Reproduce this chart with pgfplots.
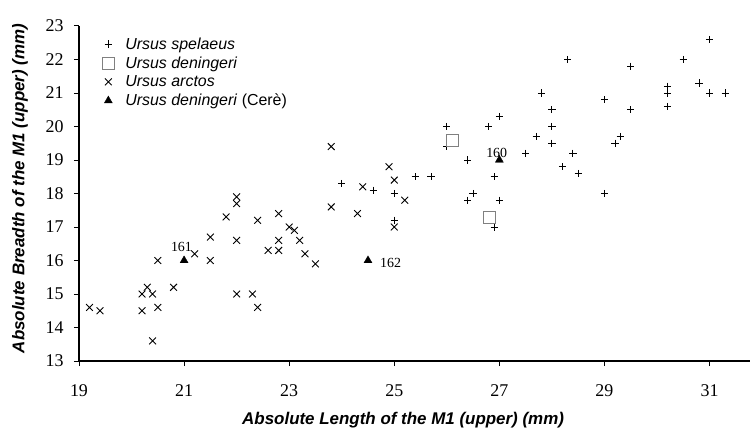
\documentclass[border=0pt]{standalone}
\usepackage{pgfplots}
\pgfplotsset{compat=1.18}
\usepackage{fontspec}
\setmainfont{Liberation Serif}
\newfontfamily\arial{Liberation Sans}
\pgfplotstableread{
x y
31.0 22.6
28.3 22.0
30.5 22.0
29.5 21.8
30.2 21.2
30.2 21.0
30.2 20.6
30.8 21.3
31.0 21.0
31.3 21.0
27.8 21.0
29.0 20.8
29.5 20.5
28.0 20.5
28.0 20.0
27.7 19.7
28.0 19.5
27.5 19.2
28.4 19.2
29.3 19.7
29.2 19.5
28.2 18.8
28.5 18.6
29.0 18.0
27.0 20.3
26.8 20.0
26.0 20.0
26.0 19.4
26.4 19.0
25.7 18.5
26.9 18.5
26.5 18.0
26.4 17.8
27.0 17.8
26.9 17.0
25.4 18.5
24.0 18.3
24.6 18.1
25.0 18.0
25.0 17.2
}\spelaeus
\pgfplotstableread{
x y
26.1 19.6
26.8 17.3
}\deningeri
\pgfplotstableread{
x y
19.2 14.6
19.4 14.5
20.2 15.0
20.3 15.2
20.4 15.0
20.2 14.5
20.5 14.6
20.4 13.6
20.5 16.0
20.8 15.2
21.2 16.2
21.5 16.7
21.5 16.0
21.8 17.3
22.0 17.9
22.0 17.7
22.0 16.6
22.0 15.0
22.3 15.0
22.4 14.6
22.4 17.2
22.6 16.3
22.8 17.4
22.8 16.6
22.8 16.3
23.0 17.0
23.1 16.9
23.2 16.6
23.3 16.2
23.5 15.9
23.8 19.4
23.8 17.6
24.3 17.4
24.4 18.2
24.9 18.8
25.0 18.4
25.2 17.8
25.0 17.0
}\arctos
\pgfplotstableread{
x y
21.0 16.0
24.5 16.0
27.0 19.0
}\cere
\begin{document}
\begin{tikzpicture}
\useasboundingbox (-79bp,-75bp) rectangle (673bp,361bp);
\begin{axis}[
  scale only axis,
  width=671bp, height=335bp,
  xmin=19, xmax=31.77, ymin=13, ymax=23,
  xtick={19,21,...,31}, ytick={13,14,...,23},
  axis x line=bottom, axis y line=left,
  axis line style={-, line width=1.1pt},
  tick align=outside,
  major tick length=5bp,
  tick style={line width=1pt, black},
  /pgf/number format/assume math mode=true,
  tick label style={font=\fontsize{18}{20}\selectfont},
  xticklabel style={yshift=-15bp},
  yticklabel style={xshift=-7bp},
  xlabel={\arial\bfseries\itshape Absolute Length of the M1 (upper) (mm)},
  ylabel={\arial\bfseries\itshape Absolute Breadth of the M1 (upper) (mm)},
  label style={font=\fontsize{17}{19}\selectfont},
  xlabel style={at={(axis description cs:0.483,-0.176)}, anchor=center},
  ylabel style={at={(axis description cs:-0.088,0.515)}, anchor=center},
  legend style={draw=none, fill=none, at={(axis description cs:0.033,0.975)}, anchor=north west,
    font=\arial\fontsize{16}{17}\selectfont, row sep=2bp, inner sep=1bp},
  legend cell align=left,
  clip=false,
]
\addplot[only marks, mark=+, mark size=3.6bp, line width=0.9pt, black] table {\spelaeus};
\addlegendentry{\hspace*{9bp}\textit{Ursus spelaeus}}
\addplot[only marks, mark=square*, mark size=6bp, draw=gray, fill=white, line width=0.7pt] table {\deningeri};
\addlegendentry{\hspace*{9bp}\textit{Ursus deningeri}}
\addplot[only marks, mark=x, mark size=4.8bp, line width=0.9pt, black] table {\arctos};
\addlegendentry{\hspace*{9bp}\textit{Ursus arctos}}
\addplot[only marks, mark=triangle*, mark size=4.6bp, black] table {\cere};
\addlegendentry{\hspace*{9bp}\textit{Ursus deningeri} (Cerè)}
\node[font=\fontsize{14}{15}\selectfont] at (axis cs:26.95,19.22) {160};
\node[font=\fontsize{14}{15}\selectfont] at (axis cs:20.95,16.41) {161};
\node[font=\fontsize{14}{15}\selectfont] at (axis cs:24.93,15.93) {162};
\end{axis}
\end{tikzpicture}
\end{document}
